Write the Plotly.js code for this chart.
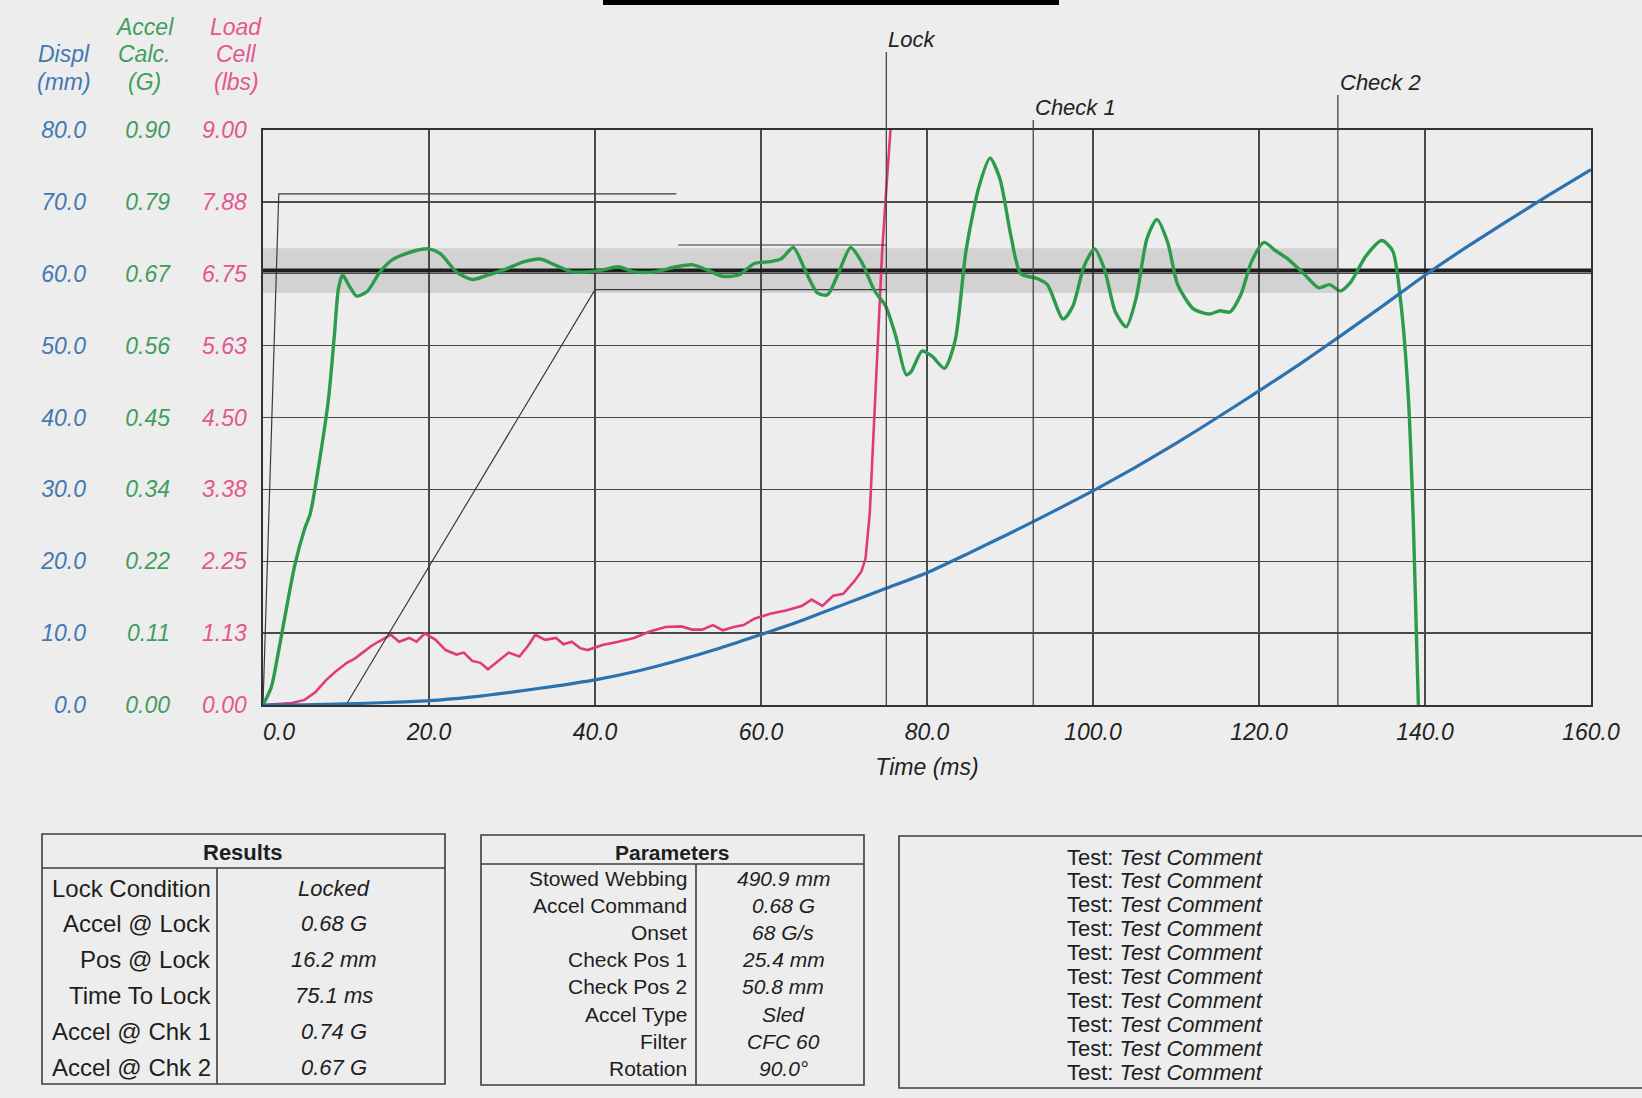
<!DOCTYPE html>
<html><head><meta charset="utf-8">
<script src="https://cdn.plot.ly/plotly-3.0.1.min.js"></script>
<style>html,body{margin:0;padding:0;background:#ededed;} #chart{width:1642px;height:1098px;}</style>
</head><body><div id="chart"></div>
<script>
// ---------- DATA ----------
const timeTicks = [0, 20, 40, 60, 80, 100, 120, 140, 160];
const timeTickLabels = ['\u00a0\u00a0\u00a0\u00a0\u00a00.0', '20.0', '40.0', '60.0', '80.0', '100.0', '120.0', '140.0', '160.0'];
const displTicks = [0, 10, 20, 30, 40, 50, 60, 70, 80];
const displTickLabels = ['0.0', '10.0', '20.0', '30.0', '40.0', '50.0', '60.0', '70.0', '80.0'];
const accelTickLabels = ['0.00', '0.11', '0.22', '0.34', '0.45', '0.56', '0.67', '0.79', '0.90'];
const loadTickLabels = ['0.00', '1.13', '2.25', '3.38', '4.50', '5.63', '6.75', '7.88', '9.00'];
const displRange = [0, 80];
const accelRange = [0, 0.9];
const loadRange = [0, 9];

const displTitle = ['Displ', '(mm)'];
const accelTitle = ['Accel', 'Calc.', '(G)'];
const loadTitle = ['Load', 'Cell', '(lbs)'];

// Displacement (mm) vs time (ms)
const dispTime = [0, 5, 10, 15, 20, 25, 30, 35, 40, 45, 50, 55, 60, 65, 70, 75, 80, 85, 90, 95, 100, 105, 110, 115, 120, 125, 130, 135, 140, 145, 150, 155, 160];
const dispMm = [0, 0.03, 0.15, 0.35, 0.6, 1.1, 1.8, 2.6, 3.5, 4.7, 6.2, 7.9, 9.8, 11.8, 14.0, 16.2, 18.4, 21.1, 23.9, 26.8, 29.8, 33.0, 36.4, 40.0, 43.7, 47.5, 51.5, 55.6, 59.8, 63.7, 67.4, 71.0, 74.5];

// Acceleration (G) vs time (ms)
const accelTime = [0, 1.0, 1.9, 3.8, 5.0, 5.7, 6.9, 7.9, 8.6, 9.1, 9.6, 10.3, 11.3, 12.6, 14.1, 15.7, 18.3, 20.0, 21.4, 23.3, 25.2, 27.1, 29.0, 31.5, 33.4, 35.3, 37.2, 39.1, 41.0, 42.8, 44.7, 47.2, 49.8, 51.7, 53.5, 55.4, 57.3, 59.2, 61.1, 62.4, 63.9, 65.3, 66.8, 68.0, 69.3, 70.8, 72.1, 73.7, 75.0, 76.2, 77.5, 78.1, 79.4, 80.6, 82.1, 83.4, 84.7, 86.3, 87.6, 88.8, 90.1, 91.3, 93.2, 94.5, 96.4, 97.6, 98.9, 100.2, 101.4, 102.7, 104.0, 105.2, 106.5, 107.7, 109.0, 110.2, 112.1, 114.0, 115.3, 116.5, 117.8, 119.1, 120.6, 122.0, 123.5, 125.4, 127.2, 128.5, 129.8, 131.0, 132.9, 134.8, 136.1, 137.1, 138.0, 138.6, 139.2];
const accelG = [0, 0.028, 0.086, 0.217, 0.275, 0.30, 0.39, 0.48, 0.579, 0.653, 0.673, 0.658, 0.640, 0.648, 0.678, 0.698, 0.711, 0.714, 0.706, 0.678, 0.666, 0.673, 0.681, 0.694, 0.698, 0.688, 0.678, 0.678, 0.681, 0.686, 0.678, 0.678, 0.686, 0.689, 0.681, 0.671, 0.673, 0.691, 0.694, 0.698, 0.716, 0.681, 0.645, 0.642, 0.675, 0.716, 0.694, 0.648, 0.625, 0.579, 0.517, 0.522, 0.554, 0.546, 0.527, 0.571, 0.711, 0.813, 0.856, 0.823, 0.735, 0.675, 0.668, 0.658, 0.604, 0.625, 0.686, 0.714, 0.681, 0.615, 0.592, 0.637, 0.730, 0.760, 0.724, 0.658, 0.620, 0.612, 0.617, 0.615, 0.642, 0.694, 0.724, 0.711, 0.698, 0.675, 0.653, 0.658, 0.648, 0.661, 0.703, 0.727, 0.711, 0.628, 0.480, 0.283, 0];

// Load cell (lbs) vs time (ms)
const loadTime = [0, 3.5, 5.0, 6.3, 7.6, 8.8, 10.1, 11.0, 12.0, 13.0, 13.9, 15.4, 16.4, 17.6, 18.5, 19.5, 20.8, 22.0, 23.3, 24.2, 25.2, 26.2, 27.1, 28.3, 29.6, 30.9, 32.0, 32.8, 34.0, 35.3, 36.2, 37.2, 38.2, 39.1, 40.9, 42.8, 44.7, 46.6, 48.5, 50.4, 51.7, 52.9, 54.2, 55.4, 56.7, 57.9, 59.2, 61.1, 63.0, 64.9, 66.1, 67.4, 68.7, 69.9, 71.2, 72.1, 72.6, 73.1, 73.6, 74.1, 74.6, 75.1, 75.6];
const loadLbs = [0, 0.03, 0.08, 0.20, 0.39, 0.53, 0.66, 0.72, 0.82, 0.92, 0.99, 1.10, 0.99, 1.05, 0.99, 1.12, 1.02, 0.86, 0.79, 0.82, 0.69, 0.66, 0.56, 0.69, 0.82, 0.76, 0.94, 1.10, 1.02, 1.05, 0.95, 0.99, 0.89, 0.86, 0.94, 0.99, 1.05, 1.15, 1.22, 1.23, 1.18, 1.18, 1.25, 1.17, 1.22, 1.25, 1.35, 1.43, 1.48, 1.55, 1.65, 1.55, 1.71, 1.74, 1.93, 2.09, 2.30, 2.99, 4.31, 5.79, 7.11, 8.09, 9.0];

// Acceleration corridor (G)
const upperTime = [0, 1.9, 49.8];
const upperG = [0, 0.80, 0.80];
const upper2Time = [50, 75.1];
const upper2G = [0.72, 0.72];
const lowerTime = [10, 40, 75.1];
const lowerG = [0, 0.65, 0.65];
const accelCommandG = 0.68;
const bandG = [0.645, 0.715];
const bandEnd = 129.5;

// Events
const eventTimes = [75.1, 92.8, 129.5];
const eventLabels = ['Lock', 'Check 1', 'Check 2'];

// Tables
const resultsTitle = 'Results';
const resultLabels = ['Lock Condition', 'Accel @ Lock', 'Pos @ Lock', 'Time To Lock', 'Accel @ Chk 1', 'Accel @ Chk 2'];
const resultValues = ['Locked', '0.68 G', '16.2 mm', '75.1 ms', '0.74 G', '0.67 G'];
const paramsTitle = 'Parameters';
const paramLabels = ['Stowed Webbing', 'Accel Command', 'Onset', 'Check Pos 1', 'Check Pos 2', 'Accel Type', 'Filter', 'Rotation'];
const paramValues = ['490.9 mm', '0.68 G', '68 G/s', '25.4 mm', '50.8 mm', 'Sled', 'CFC 60', '90.0°'];
const commentKeys = ['Test:', 'Test:', 'Test:', 'Test:', 'Test:', 'Test:', 'Test:', 'Test:', 'Test:', 'Test:'];
const commentTexts = ['Test Comment', 'Test Comment', 'Test Comment', 'Test Comment', 'Test Comment', 'Test Comment', 'Test Comment', 'Test Comment', 'Test Comment', 'Test Comment'];

// ---------- STYLE / LAYOUT ----------
const W = 1642, H = 1098;
const px = v => v / W;
const py = v => (H - v) / H;
const PL = 263, PR = 1591, PT = 130, PB = 705;

const BLUE = '#2a72b0', GREEN = '#2c9b4c', PINK = '#e2397e';
const BLUE_T = '#4379b2', GREEN_T = '#3f9f5e', PINK_T = '#e4578e';
const GRID = '#4a4a4a';
const FONT = 'Liberation Sans, Arial, Helvetica, sans-serif';

const scale = (vals, from, to) => vals.map(v => (v - from[0]) / (from[1] - from[0]) * (to[1] - to[0]) + to[0]);

const traces = [
  {x: upperTime, y: upperG, yaxis: 'y2', mode: 'lines', line: {color: '#3a3a3a', width: 1.2}, hoverinfo: 'skip'},
  {x: upper2Time, y: upper2G, yaxis: 'y2', mode: 'lines', line: {color: '#3a3a3a', width: 1.2}, hoverinfo: 'skip'},
  {x: lowerTime, y: lowerG, yaxis: 'y2', mode: 'lines', line: {color: '#3a3a3a', width: 1.2}, hoverinfo: 'skip'},
  {x: [0, 160], y: [accelCommandG, accelCommandG], yaxis: 'y2', mode: 'lines', line: {color: '#1e1e1e', width: 4}, hoverinfo: 'skip'},
  {x: dispTime, y: dispMm, yaxis: 'y3', mode: 'lines', line: {color: BLUE, width: 3.2, shape: 'spline', smoothing: 0.6}},
  {x: loadTime, y: loadLbs, yaxis: 'y', mode: 'lines', line: {color: PINK, width: 2.6}},
  {x: accelTime, y: accelG, yaxis: 'y2', mode: 'lines', line: {color: GREEN, width: 3.4, shape: 'spline', smoothing: 0.7}}
];

const ydom = [py(PB), py(PT)];
const tickFont = c => ({family: FONT, size: 23, color: c, style: 'italic'});

const shapes = [];
const annotations = [];

// gray tolerance band around accel command
shapes.push({type: 'rect', xref: 'x', yref: 'y2', x0: 0, x1: bandEnd, y0: bandG[0], y1: bandG[1], fillcolor: 'rgba(200,200,200,0.75)', line: {width: 0}, layer: 'below'});

// event lines + labels
const eventTops = [52, 120, 95];
eventTimes.forEach((t, i) => {
  shapes.push({type: 'line', xref: 'x', yref: 'paper', x0: t, x1: t, y0: py(PB), y1: py(eventTops[i]), line: {color: '#444', width: 1.3}});
  annotations.push({xref: 'x', yref: 'paper', x: t, y: py(eventTops[i] + 2), xanchor: 'left', yanchor: 'bottom', showarrow: false,
    text: eventLabels[i], font: {family: FONT, size: 22, color: '#222', style: 'italic'}});
});

// top bar (cropped title underline)
shapes.push({type: 'rect', xref: 'paper', yref: 'paper', x0: px(603), x1: px(1059), y0: py(5), y1: py(0), fillcolor: '#000', line: {width: 0}});

// axis header labels
const hdr = (lines, cx, color) => {
  const ys = [82, 54, 27];
  lines.slice().reverse().forEach((s, i) => {
    annotations.push({xref: 'paper', yref: 'paper', x: px(cx), y: py(ys[i]), xanchor: 'center', yanchor: 'middle', showarrow: false,
      text: s, font: {family: FONT, size: 23, color: color, style: 'italic'}});
  });
};
hdr(displTitle, 64, BLUE_T);
hdr(accelTitle, 144, GREEN_T);
hdr(loadTitle, 236, PINK_T);

// tables
const lineC = '#3c3c3c';
const box = (x0, y0, x1, y1) => shapes.push({type: 'rect', xref: 'paper', yref: 'paper', x0: px(x0), x1: px(x1), y0: py(y1), y1: py(y0), line: {color: lineC, width: 1.6}, fillcolor: 'rgba(0,0,0,0)'});
const hline = (x0, x1, y) => shapes.push({type: 'line', xref: 'paper', yref: 'paper', x0: px(x0), x1: px(x1), y0: py(y), y1: py(y), line: {color: lineC, width: 1.6}});
const vline = (x, y0, y1) => shapes.push({type: 'line', xref: 'paper', yref: 'paper', x0: px(x), x1: px(x), y0: py(y0), y1: py(y1), line: {color: lineC, width: 1.6}});
const txt = (x, y, s, anchor, size, style, weight) => annotations.push({xref: 'paper', yref: 'paper', x: px(x), y: py(y), xanchor: anchor, yanchor: 'middle', showarrow: false,
  text: s, font: {family: FONT, size: size, color: '#1e1e1e', style: style || 'normal', weight: weight || 'normal'}});

// Results
box(42, 834, 445, 1084);
hline(42, 445, 868);
vline(217, 868, 1084);
txt(243, 852, resultsTitle, 'center', 22, 'normal', 'bold');
resultLabels.forEach((s, i) => {
  const y = 888 + i * 35.8;
  txt(213, y, s, 'right', 24);
  txt(334, y, resultValues[i], 'center', 22, 'italic');
});

// Parameters
box(481, 835, 864, 1085);
hline(481, 864, 864);
vline(696, 864, 1085);
txt(672, 852, paramsTitle, 'center', 21, 'normal', 'bold');
paramLabels.forEach((s, i) => {
  const y = 878 + i * 27.2;
  txt(689, y, s, 'right', 21);
  txt(783, y, paramValues[i], 'center', 21, 'italic');
});

// Comments
box(899, 836, 1660, 1088);
commentKeys.forEach((k, i) => {
  const y = 857 + i * 23.9;
  annotations.push({xref: 'paper', yref: 'paper', x: px(1065), y: py(y), xanchor: 'left', yanchor: 'middle', showarrow: false,
    text: k + ' <i>' + commentTexts[i] + '</i>', font: {family: FONT, size: 22, color: '#1e1e1e'}});
});

const layout = {
  width: W, height: H, autosize: false,
  margin: {l: 0, r: 0, t: 0, b: 0, pad: 0},
  paper_bgcolor: '#ededed', plot_bgcolor: '#ededed',
  showlegend: false,
  font: {family: FONT, size: 23, color: '#222'},
  xaxis: {
    domain: [px(PL), px(PR)], range: [0, 160], anchor: 'y',
    tickmode: 'array', tickvals: timeTicks, ticktext: timeTickLabels,
    tickfont: tickFont('#222'), ticks: '', ticklabelstandoff: 6,
    showgrid: true, gridcolor: GRID, gridwidth: 1.3, zeroline: false,
    showline: true, linecolor: '#333', linewidth: 1.6, mirror: true,
    title: {text: 'Time (ms)', font: {family: FONT, size: 23, color: '#222', style: 'italic'}, standoff: 14},
    automargin: false, fixedrange: true
  },
  yaxis: {
    domain: ydom, range: loadRange, anchor: 'x', side: 'left',
    tickmode: 'array', tickvals: scale(displTicks, displRange, loadRange), ticktext: loadTickLabels,
    tickfont: tickFont(PINK_T), ticks: '', ticklabelstandoff: 10,
    showgrid: true, gridcolor: GRID, gridwidth: 1.3, zeroline: false,
    showline: true, linecolor: '#333', linewidth: 1.6, mirror: true,
    automargin: false, fixedrange: true
  },
  yaxis2: {
    domain: ydom, range: accelRange, overlaying: 'y', anchor: 'free', position: px(170), side: 'left',
    tickmode: 'array', tickvals: scale(displTicks, displRange, accelRange), ticktext: accelTickLabels,
    tickfont: tickFont(GREEN_T), ticks: '', showgrid: false, zeroline: false, showline: false,
    automargin: false, fixedrange: true
  },
  yaxis3: {
    domain: ydom, range: displRange, overlaying: 'y', anchor: 'free', position: px(86), side: 'left',
    tickmode: 'array', tickvals: displTicks, ticktext: displTickLabels,
    tickfont: tickFont(BLUE_T), ticks: '', showgrid: false, zeroline: false, showline: false,
    automargin: false, fixedrange: true
  },
  shapes: shapes,
  annotations: annotations
};

Plotly.newPlot('chart', traces, layout, {displayModeBar: false, staticPlot: true});
</script></body></html>
